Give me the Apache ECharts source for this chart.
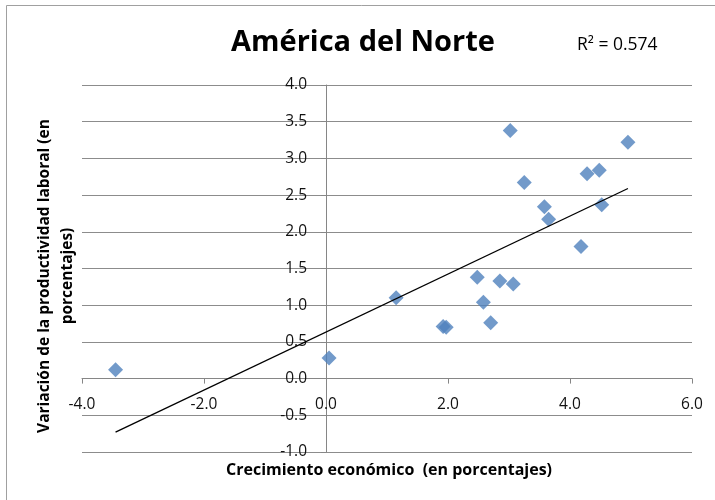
<!DOCTYPE html>
<html>
<head>
<meta charset="utf-8">
<script src="https://cdn.jsdelivr.net/npm/echarts@6/dist/echarts.min.js"></script>
<style>
html,body{margin:0;padding:0;background:#fff;}
#chart{width:715px;height:500px;}
</style>
</head>
<body>
<div id="chart"></div>
<script>
// Data
var growth = [-3.45, 0.05, 1.15, 1.92, 1.97, 2.48, 2.58, 2.70, 2.85, 3.07, 3.02, 3.25, 3.58, 3.65, 4.18, 4.28, 4.48, 4.52, 4.95];
var productivity = [0.12, 0.28, 1.10, 0.71, 0.70, 1.38, 1.04, 0.76, 1.33, 1.29, 3.38, 2.67, 2.34, 2.17, 1.80, 2.79, 2.84, 2.37, 3.22];
var trendX = [-3.45, 4.95];
var trendY = [-0.73, 2.59];
var titleText = 'América del Norte';
var r2Text = 'R² = 0.574';
var xName = 'Crecimiento económico  (en porcentajes)';
var yNameLines = ['Variación de la productividad laboral (en', 'porcentajes)'];

var points = growth.map(function (x, i) { return [x, productivity[i]]; });
var trend = trendX.map(function (x, i) { return [x, trendY[i]]; });

var FONT = 'Open Sans';
var GRID = {left: 82, right: 23, top: 85, bottom: 48};
var W = 715, H = 500;
var gw = W - GRID.left - GRID.right, gh = H - GRID.top - GRID.bottom;
var X_MIN = -4, X_MAX = 6, Y_MIN = -1, Y_MAX = 4;
// axes cross at zero: shift them inward from the grid edges
var xOffset = -gh * (0 - Y_MIN) / (Y_MAX - Y_MIN);
var yOffset = -gw * (0 - X_MIN) / (X_MAX - X_MIN);

var chart = echarts.init(document.getElementById('chart'), null, {renderer: 'canvas'});
chart.setOption({
  animation: false,
  backgroundColor: '#fff',
  grid: {left: GRID.left, right: GRID.right, top: GRID.top, bottom: GRID.bottom, containLabel: false},
  xAxis: {
    type: 'value', min: X_MIN, max: X_MAX, interval: 2, position: 'bottom', offset: xOffset,
    axisLine: {show: true, onZero: false, lineStyle: {color: '#868686', width: 1}},
    axisTick: {show: true, length: 5, lineStyle: {color: '#868686'}},
    axisLabel: {color: '#111', fontFamily: FONT, fontSize: 15.5, margin: 18,
      formatter: function (v) { return v.toFixed(1); }},
    splitLine: {show: false}
  },
  yAxis: {
    type: 'value', min: Y_MIN, max: Y_MAX, interval: 0.5, position: 'left', offset: yOffset,
    axisLine: {show: true, onZero: false, lineStyle: {color: '#868686', width: 1}},
    axisTick: {show: true, length: 5, lineStyle: {color: '#868686'}},
    axisLabel: {color: '#111', fontFamily: FONT, fontSize: 15.5, margin: 19,
      formatter: function (v) { return v.toFixed(1); }},
    splitLine: {show: true, lineStyle: {color: '#8c8c8c', width: 1}}
  },
  series: [
    {
      type: 'scatter', data: points, symbol: 'diamond', symbolSize: 15,
      itemStyle: {color: '#4F81BD'}, z: 3
    },
    {
      type: 'line', data: trend, showSymbol: false, symbol: 'none',
      lineStyle: {color: '#000', width: 1.3}, z: 4
    }
  ],
  graphic: [
    {type: 'rect', left: 4, top: 3, shape: {width: 730, height: 520},
      style: {fill: 'none', stroke: '#a0a0a0', lineWidth: 1}, silent: true},
    {type: 'text', x: 363, y: 43, style: {text: titleText, font: 'bold 29px "Open Sans"',
      fill: '#000', align: 'center', verticalAlign: 'middle', textAlign: 'center', textVerticalAlign: 'middle'}},
    {type: 'text', x: 577, y: 45, style: {text: r2Text, font: '17.5px "Open Sans"',
      fill: '#000', align: 'left', verticalAlign: 'middle', textAlign: 'left', textVerticalAlign: 'middle'}},
    {type: 'text', x: 389, y: 470, style: {text: xName, font: 'bold 16px "Open Sans"',
      fill: '#000', align: 'center', verticalAlign: 'middle', textAlign: 'center', textVerticalAlign: 'middle'}},
    {type: 'text', x: 56, y: 276, rotation: Math.PI / 2,
      style: {text: yNameLines.join('\n'), font: 'bold 15.5px "Open Sans"', lineHeight: 23,
      fill: '#000', align: 'center', verticalAlign: 'middle', textAlign: 'center', textVerticalAlign: 'middle'}}
  ]
});
</script>
</body>
</html>
